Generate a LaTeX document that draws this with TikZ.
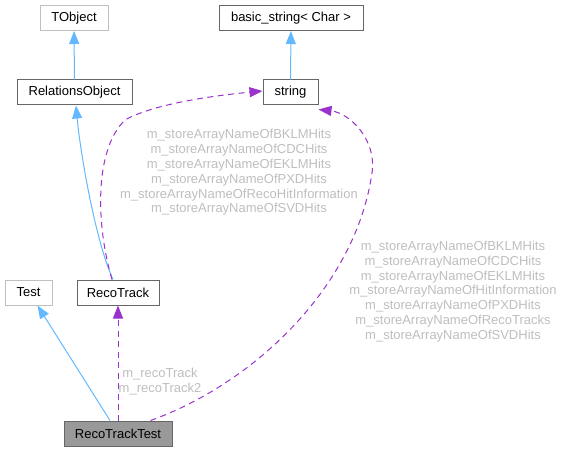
\documentclass[tikz,border=0pt]{standalone}
\usepackage{fontspec}
\setmainfont{Liberation Sans}
\usetikzlibrary{arrows.meta}
\definecolor{inhblue}{HTML}{63B8FF}
\definecolor{usepurple}{HTML}{9A32CD}
\definecolor{lblgray}{HTML}{BEBEBE}
\definecolor{boxgray}{HTML}{666666}
\definecolor{undocgray}{HTML}{BFBFBF}
\definecolor{selfgray}{HTML}{999999}
\begin{document}
\begin{tikzpicture}[x=1pt,y=-1pt,
    font=\fontsize{13}{14.8}\selectfont,
    cls/.style={draw=boxgray,line width=1pt,minimum height=25pt,inner sep=0pt},
    undoc/.style={cls,draw=undocgray},
    self/.style={cls,fill=selfgray},
    inh/.style={draw=inhblue,line width=1pt,-{Triangle[length=13pt,width=10pt]}},
    use/.style={draw=usepurple,line width=1pt,dash pattern=on 6pt off 4.5pt,-{Triangle[length=13pt,width=10pt]}},
    lbl/.style={text=lblgray,align=center,inner sep=0pt}]
      \useasboundingbox (0,0) rectangle (563,452);
      \draw
        (74,18) node[undoc,minimum width=68pt] (tobj){TObject}
        (291,18) node[cls,minimum width=144pt] (bstr){basic\_string< Char >}
        (74.5,92.5) node[cls,minimum width=115pt] (rel){RelationsObject}
        (290.5,92.5) node[cls,minimum width=55pt] (str){string}
        (28.5,292.5) node[undoc,minimum width=47pt] (test){Test}
        (118,292.5) node[cls,minimum width=82pt] (reco){RecoTrack}
        (118,433.5) node[self,minimum width=108pt] (rtt){RecoTrackTest};
      \begin{scope}[inh]
        \draw (rel) to (tobj);
        \draw (str) to (bstr);
        \draw ([xshift=-5pt]reco.north) .. controls (95,240) and (80,150) .. ([xshift=1.5pt]rel.south);
        \draw ([xshift=-8pt]rtt.north) to ([xshift=9pt]test.south);
      \end{scope}
      \begin{scope}[use]
        \draw (rtt) to (reco);
        \draw ([xshift=-6pt]reco.north) .. controls (96,225) and (94,150) .. (125,120)
          .. controls (155,103) and (220,95) .. ([yshift=1.5pt]str.west);
        \draw ([xshift=-22pt]rtt.north east) .. controls (250,385) and (355,290) .. (372,173)
          .. controls (377,140) and (350,113) .. ([yshift=-4pt]str.south east);
      \end{scope}
      \node[lbl] (lblstr) at (239,172.5) {m\_storeArrayNameOfBKLMHits\\m\_storeArrayNameOfCDCHits\\m\_storeArrayNameOfEKLMHits\\m\_storeArrayNameOfPXDHits\\m\_storeArrayNameOfRecoHitInformation\\m\_storeArrayNameOfSVDHits};
      \node[lbl] (lbltest) at (453,291.5) {m\_storeArrayNameOfBKLMHits\\m\_storeArrayNameOfCDCHits\\m\_storeArrayNameOfEKLMHits\\m\_storeArrayNameOfHitInformation\\m\_storeArrayNameOfPXDHits\\m\_storeArrayNameOfRecoTracks\\m\_storeArrayNameOfSVDHits};
      \node[lbl] (lblreco) at (160,381.5) {m\_recoTrack\\m\_recoTrack2};
    \end{tikzpicture}
\end{document}
